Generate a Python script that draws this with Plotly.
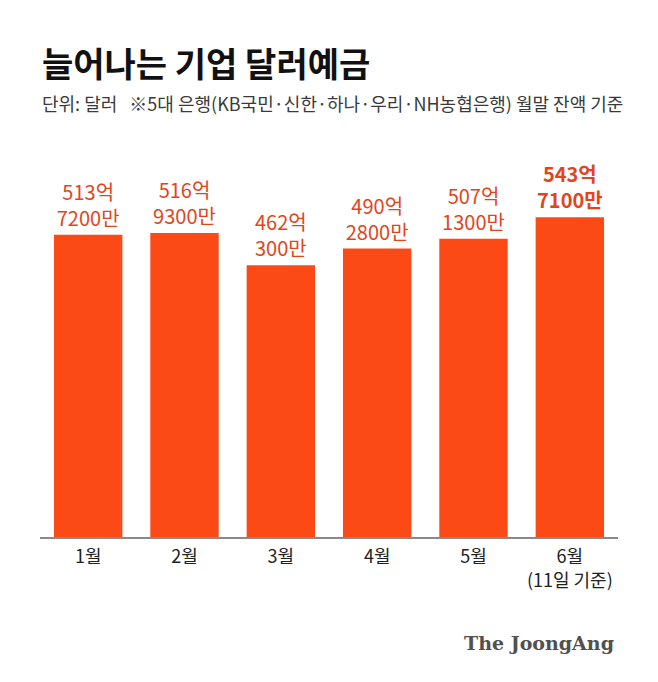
import plotly.graph_objects as go

months = ["1월", "2월", "3월", "4월", "5월", "6월"]
tick_text = ["1월", "2월", "3월", "4월", "5월", "6월<br>(11일 기준)"]
values_eok = [513.72, 516.93, 462.03, 490.28, 507.13, 543.71]
labels = ["513억<br>7200만", "516억<br>9300만", "462억<br>300만",
          "490억<br>2800만", "507억<br>1300만", "<b>543억<br>7100만</b>"]

FONT = "Noto Sans CJK KR"
BAR = "#FC4A16"
LBL = "#E2451C"

fig = go.Figure()
fig.add_trace(go.Bar(
    x=months, y=values_eok,
    marker=dict(color=BAR, line=dict(width=0)),
    text=labels, textposition="outside", cliponaxis=False,
    textfont=dict(family=FONT, size=20, color=LBL),
    hoverinfo="skip",
))

fig.update_layout(
    width=658, height=682,
    margin=dict(l=40, r=40, t=157, b=145),
    paper_bgcolor="white", plot_bgcolor="white",
    showlegend=False, bargap=0.29,
    xaxis=dict(
        tickvals=months, ticktext=tick_text,
        showline=True, linecolor="#8a8a8a", linewidth=1.5,
        showgrid=False, ticks="", zeroline=False,
        tickfont=dict(family=FONT, size=18, color="#222222"),
        ticklabelstandoff=3,
    ),
    yaxis=dict(range=[0, 646], visible=False, showgrid=False, zeroline=False),
    annotations=[
        dict(text="<b>늘어나는 기업 달러예금</b>", xref="paper", yref="paper",
             x=0, y=1, xanchor="left", yanchor="middle",
             yshift=(157 - 62), showarrow=False,
             font=dict(family=FONT, size=34, color="#111111")),
        dict(text="단위: 달러   ※5대 은행(KB국민·신한·하나·우리·NH농협은행) 월말 잔액 기준",
             xref="paper", yref="paper", x=0, y=1, xanchor="left", yanchor="middle",
             yshift=(157 - 103), showarrow=False,
             font=dict(family=FONT, size=18, color="#3a3a3a")),
        dict(text="<b>The JoongAng</b>", xref="paper", yref="paper",
             x=1, y=0, xanchor="right", yanchor="middle",
             xshift=-2, yshift=-(643 - 537), showarrow=False,
             font=dict(family="DejaVu Serif", size=19, color="#505050")),
    ],
)

fig.write_html("out.html")
